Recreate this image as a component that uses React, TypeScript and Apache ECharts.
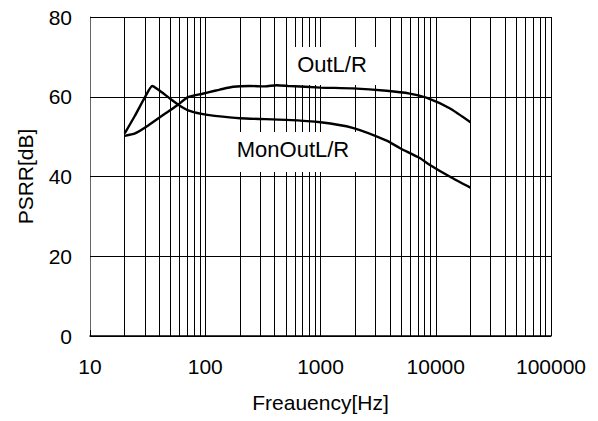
import React, { useEffect, useRef } from "react";
import * as echarts from "echarts";

const outFreq = [20, 24.6, 32, 45, 58, 71, 93, 121, 134, 175, 244, 330, 416, 542, 1000, 1900, 3750, 5950, 8400, 13200, 20000];
const outVals = [50.2, 50.8, 52.8, 55.8, 58.0, 59.9, 60.7, 61.5, 61.8, 62.5, 62.7, 62.6, 62.9, 62.7, 62.3, 62.1, 61.5, 60.8, 59.7, 57.1, 53.6];

const monFreq = [20, 24.6, 30, 34.7, 39, 47.7, 58.4, 71, 93, 121, 200, 500, 1000, 1900, 3750, 4900, 7200, 8900, 13200, 20000];
const monVals = [50.8, 55.3, 59.9, 62.7, 61.8, 59.9, 58.0, 56.6, 55.7, 55.2, 54.6, 54.2, 53.6, 52.2, 49.0, 47.1, 44.7, 42.9, 40.0, 37.2];

const minorGridFreqs = [
  20, 30, 40, 50, 60, 70, 80, 90,
  200, 300, 400, 500, 600, 700, 800, 900,
  2000, 3000, 4000, 5000, 6000, 7000, 8000, 9000,
  20000, 30000, 40000, 50000, 60000, 70000, 80000, 90000,
];

const yTicks = { min: 0, max: 80, interval: 20 };
const xRange = { min: 10, max: 100000 };

const FONT = "'Liberation Sans', Arial, sans-serif";

export default function App() {
  const ref = useRef<HTMLDivElement>(null);
  useEffect(() => {
    if (!ref.current) return;
    const chart = echarts.init(ref.current, null, { renderer: "svg" });
    chart.setOption({
      animation: false,
      backgroundColor: "#fff",
      textStyle: { fontFamily: FONT, color: "#000" },
      grid: { left: 90, right: 47, top: 17, bottom: 85, containLabel: false },
      xAxis: {
        type: "log",
        logBase: 10,
        min: xRange.min,
        max: xRange.max,
        name: "Freauency[Hz]",
        nameLocation: "middle",
        nameGap: 56,
        nameTextStyle: { fontSize: 21, color: "#000", fontFamily: FONT },
        axisLine: { show: true, lineStyle: { color: "#000", width: 1.5 } },
        axisTick: { show: true, inside: true, length: 6, lineStyle: { color: "#000" } },
        axisLabel: {
          fontSize: 21,
          color: "#000",
          fontFamily: FONT,
          margin: 20,
          formatter: (v: number) => String(Math.round(v)),
        },
        splitLine: { show: true, lineStyle: { color: "#000", width: 1 } },
      },
      yAxis: {
        type: "value",
        min: yTicks.min,
        max: yTicks.max,
        interval: yTicks.interval,
        name: "PSRR[dB]",
        nameLocation: "middle",
        nameGap: 54,
        nameTextStyle: { fontSize: 21, color: "#000", fontFamily: FONT },
        axisLine: { show: true, lineStyle: { color: "#666", width: 1 } },
        axisTick: { show: true, inside: true, length: 6, lineStyle: { color: "#000" } },
        axisLabel: { fontSize: 21, color: "#000", fontFamily: FONT, margin: 18 },
        splitLine: { show: true, lineStyle: { color: "#000", width: 1 } },
      },
      series: [
        {
          name: "OutL/R",
          type: "line",
          data: outFreq.map((f, i) => [f, outVals[i]]),
          showSymbol: false,
          symbol: "none",
          smooth: 0.2,
          lineStyle: { color: "#000", width: 2.4 },
          z: 5,
          markLine: {
            silent: true,
            symbol: ["none", "none"],
            label: { show: false },
            lineStyle: { color: "#000", width: 1, type: "solid" },
            emphasis: { disabled: true },
            data: minorGridFreqs.map((f) => ({ xAxis: f })),
            z: 1,
          },
        },
        {
          name: "MonOutL/R",
          type: "line",
          data: monFreq.map((f, i) => [f, monVals[i]]),
          showSymbol: false,
          symbol: "none",
          smooth: 0.2,
          lineStyle: { color: "#000", width: 2.4 },
          z: 5,
        },
      ],
      graphic: [
        { type: "rect", z: 100, shape: { x: 288, y: 47, width: 98, height: 38 }, style: { fill: "#fff" } },
        {
          type: "text",
          z: 101,
          x: 332,
          y: 64,
          style: { text: "OutL/R", font: `22px ${FONT}`, fill: "#000", align: "center", verticalAlign: "middle" },
        },
        { type: "rect", z: 100, shape: { x: 231, y: 132, width: 128, height: 40 }, style: { fill: "#fff" } },
        {
          type: "text",
          z: 101,
          x: 293,
          y: 149,
          style: { text: "MonOutL/R", font: `22px ${FONT}`, fill: "#000", align: "center", verticalAlign: "middle" },
        },
      ],
    });
    return () => chart.dispose();
  }, []);
  return <div ref={ref} style={{ position: "fixed", left: 0, top: 0, width: 598, height: 421 }} />;
}
